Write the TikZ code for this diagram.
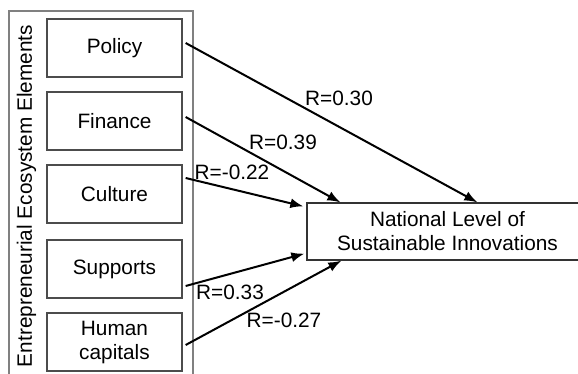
\documentclass[tikz,border=0pt]{standalone}
\usepackage{fontspec}
\setmainfont{Liberation Sans}
\usetikzlibrary{arrows.meta}

\tikzset{
  element/.style={draw=black!70, line width=1.3pt, minimum width=135pt, minimum height=58pt,
    inner sep=0pt, align=center, font=\fontsize{20.8}{24}\selectfont},
  effect/.style={line width=2pt, -{Latex[length=13pt,width=10pt]}},
  rlabel/.style={font=\fontsize{20.8}{24}\selectfont, inner sep=0pt},
}

\begin{document}
\begin{tikzpicture}[x=1pt, y=-1pt]
  \useasboundingbox (0,0) rectangle (578,373);
  \draw[black!50, line width=1.2pt] (9,390) |- (193,11) -- (193,390);
  \node[rlabel, rotate=90] (group) at (26.5,196) {Entrepreneurial Ecosystem Elements};

  \node[element] (policy) at (114.5,48) {Policy};
  \node[element] (finance) at (114.5,121) {Finance};
  \node[element] (culture) at (114.5,194) {Culture};
  \node[element] (supports) at (114.5,269) {Supports};
  \node[element] (human) at (114.5,342) {Human\\capitals};

  \node[element, draw=black!80, minimum width=281pt, minimum height=57pt] (target) at (447.5,231.5)
    {National Level of\\Sustainable Innovations};

  \draw[effect] ([xshift=3pt,yshift=5pt]policy.east) -- ([xshift=171pt]target.north west);
  \draw[effect] ([xshift=3pt,yshift=4pt]finance.east) -- ([xshift=34pt]target.north west);
  \draw[effect] ([xshift=3pt,yshift=16pt]culture.east) -- ([xshift=-3pt,yshift=-4pt]target.north west);
  \draw[effect] ([xshift=3pt,yshift=-17pt]supports.east) -- ([xshift=-2pt,yshift=7pt]target.south west);
  \draw[effect] ([xshift=3pt,yshift=-3pt]human.east) -- ([xshift=35pt]target.south west);

  \node[rlabel] (r1) at (339,98) {R=0.30};
  \node[rlabel] (r2) at (283,142) {R=0.39};
  \node[rlabel] (r3) at (232,172) {R=-0.22};
  \node[rlabel] (r4) at (230,292) {R=0.33};
  \node[rlabel] (r5) at (284,320) {R=-0.27};
\end{tikzpicture}
\end{document}
